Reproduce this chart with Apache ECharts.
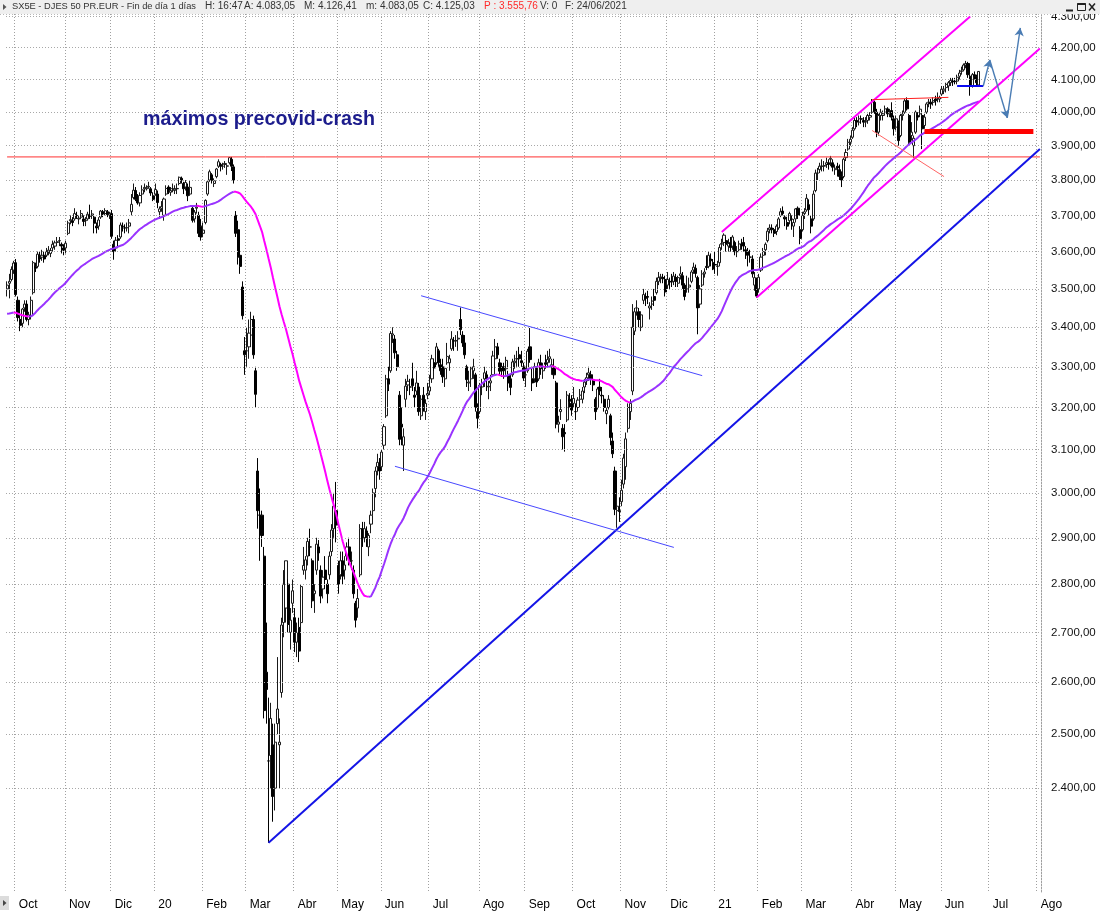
<!DOCTYPE html>
<html><head><meta charset="utf-8">
<script src="https://cdn.jsdelivr.net/npm/echarts@6/dist/echarts.min.js"></script>
<style>html,body{margin:0;padding:0;background:#fff}#c{width:1100px;height:911px}</style>
</head><body><div id="c"></div>
<script>
// ---------- calendar / ticks ----------
const firstDay = [2019, 8, 25];   // 25 Sep 2019 (UTC month index)
const lastDay = [2021, 7, 3];     // 3 Aug 2021 (axis extends into the future)
const holidays = ['2019-12-25','2019-12-26','2020-01-01','2020-04-10','2020-04-13','2020-05-01',
  '2020-12-25','2021-01-01','2021-04-02','2021-04-05'];
const monthAbbr = ['Ene','Feb','Mar','Abr','May','Jun','Jul','Ago','Sep','Oct','Nov','Dic'];
const yTickLevels = [2400,2500,2600,2700,2800,2900,3000,3100,3200,3300,3400,3500,3600,3700,3800,3900,4000,4100,4200,4300];

// ---------- closes before the visible range (for the 50-session average) ----------
const warmupCloses = [3480,3495,3500,3525,3530,3525,3545,3525,3470,3467,
  3455,3375,3280,3270,3282,3345,3310,3300,3333,3270,3280,3333,3374,3350,3380,3365,3334,3337,3354,3350,3395,3427,
  3431,3423,3470,3495,3495,3495,3494,3523,3540,3550,3537,3525,3531,3547,3571,3520,3525];

// ---------- daily bars [open, high, low, close] ----------
const sep2019 = [[3500,3520,3480,3510],[3515,3540,3475,3520],[3525,3560,3520,3552],[3550,3575,3540,3569]];
const oct2019 = [[3570,3580,3480,3485],[3470,3480,3415,3425],[3420,3440,3390,3405],[3410,3450,3400,3447],[3450,3470,3440,3460],
  [3460,3470,3415,3420],[3420,3440,3405,3432],[3430,3480,3420,3470],[3490,3575,3485,3570],[3560,3570,3545,3555],
  [3560,3600,3555,3593],[3590,3600,3570,3580],[3585,3605,3575,3590],[3590,3600,3570,3580],[3590,3610,3585,3600],
  [3600,3615,3590,3604],[3595,3610,3585,3603],[3610,3630,3600,3620],[3615,3630,3605,3624],[3625,3640,3615,3627],
  [3630,3640,3615,3630],[3620,3625,3595,3615],[3610,3620,3590,3604]];
const nov2019 = [[3610,3630,3595,3623],[3650,3685,3645,3679],[3685,3700,3675,3688],[3685,3695,3670,3680],[3690,3720,3685,3705],
  [3700,3710,3690,3699],[3690,3700,3675,3692],[3695,3715,3690,3705],[3690,3700,3670,3683],[3685,3695,3670,3686],
  [3690,3710,3685,3703],[3700,3730,3690,3697],[3700,3715,3690,3704],[3695,3700,3650,3678],[3670,3680,3650,3665],
  [3670,3695,3660,3687],[3695,3715,3690,3712],[3710,3715,3695,3704],[3705,3720,3700,3713],[3710,3715,3695,3702],
  [3700,3710,3690,3704]];
const dec2019 = [[3705,3715,3635,3642],[3620,3630,3578,3600],[3610,3640,3600,3631],[3635,3645,3615,3631],[3640,3680,3635,3673],
  [3670,3680,3655,3669],[3665,3675,3650,3665],[3665,3680,3655,3666],[3670,3690,3650,3679],[3710,3760,3700,3731],
  [3750,3790,3745,3771],[3770,3780,3740,3745],[3745,3760,3730,3735],[3735,3765,3725,3756],[3760,3785,3755,3772],
  [3775,3790,3765,3779],[3775,3785,3770,3778],[3780,3795,3775,3782],[3775,3780,3755,3763],[3755,3765,3740,3745]];
const jan2020 = [[3760,3790,3755,3773],[3760,3770,3720,3736],[3710,3725,3690,3718],[3720,3740,3710,3725],[3700,3750,3685,3746],
  [3760,3785,3755,3776],[3780,3785,3760,3766],[3765,3780,3755,3770],[3775,3790,3765,3776],[3770,3785,3760,3774],
  [3775,3790,3760,3776],[3790,3810,3785,3808],[3805,3810,3790,3800],[3790,3795,3760,3775],[3780,3800,3770,3793],
  [3780,3790,3740,3755],[3760,3800,3755,3779],[3720,3725,3680,3686],[3690,3715,3680,3709],[3720,3735,3705,3723],
  [3700,3710,3640,3650],[3670,3690,3630,3640]];
const feb2020 = [[3650,3680,3640,3659],[3680,3745,3675,3742],[3760,3800,3755,3795],[3800,3830,3795,3824],[3815,3820,3790,3799],
  [3790,3805,3780,3798],[3810,3835,3805,3832],[3840,3860,3835,3853],[3845,3850,3825,3840],[3840,3850,3830,3840],
  [3845,3855,3835,3848],[3840,3845,3815,3841],[3850,3867,3845,3865],[3860,3867,3826,3840],[3838,3845,3790,3800],
  [3700,3712,3640,3650],[3660,3685,3565,3585],[3590,3620,3540,3560],[3505,3520,3420,3430],[3340,3375,3280,3330]];
const mar2020 = [[3340,3400,3300,3340],[3350,3420,3320,3385],[3380,3440,3350,3420],[3420,3430,3320,3330],[3290,3300,3200,3232],
  [3050,3080,2920,2960],[2950,3010,2850,2950],[2950,2960,2880,2905],[2860,2880,2530,2545],[2620,2720,2520,2586],
  [2450,2570,2303,2450],[2460,2560,2400,2530],[2480,2520,2340,2385],[2400,2520,2360,2485],[2520,2650,2500,2548],
  [2480,2530,2400,2485],[2580,2730,2570,2715],[2720,2830,2690,2800],[2750,2850,2720,2850],[2800,2810,2700,2716],
  [2700,2750,2665,2725],[2760,2810,2740,2786]];
const apr2020 = [[2730,2750,2660,2680],[2680,2720,2650,2700],[2710,2730,2640,2662],[2720,2800,2700,2795],[2830,2880,2820,2840],
  [2830,2860,2810,2852],[2860,2900,2840,2892],[2880,2920,2860,2880],[2850,2855,2750,2765],[2780,2800,2740,2786],
  [2830,2900,2820,2886],[2880,2895,2850,2867],[2830,2840,2760,2775],[2790,2830,2770,2815],[2830,2860,2790,2810],
  [2800,2810,2760,2780],[2820,2870,2810,2860],[2870,2930,2860,2917],[2920,3000,2900,2970],[2960,3025,2890,2928]];
const may2020 = [[2840,2850,2780,2800],[2820,2870,2810,2850],[2850,2870,2800,2817],[2830,2860,2810,2841],[2860,2890,2850,2880],
  [2880,2900,2840,2848],[2850,2870,2830,2850],[2830,2840,2770,2780],[2760,2765,2710,2725],[2750,2790,2730,2770],
  [2820,2930,2815,2920],[2920,2935,2880,2898],[2900,2935,2890,2920],[2915,2925,2880,2900],[2880,2910,2860,2905],
  [2930,2960,2910,2950],[2960,3010,2950,3000],[3010,3060,2990,3050],[3060,3090,3040,3070],[3060,3080,3030,3050]];
const jun2020 = [[3060,3100,3050,3094],[3110,3160,3100,3154],[3180,3280,3175,3270],[3270,3300,3240,3257],[3290,3390,3285,3384],
  [3380,3400,3360,3383],[3370,3380,3320,3335],[3330,3340,3290,3300],[3230,3240,3110,3124],[3160,3200,3110,3153],
  [3110,3150,3050,3130],[3220,3270,3200,3252],[3255,3280,3240,3264],[3250,3270,3230,3250],[3270,3310,3240,3253],
  [3230,3250,3200,3225],[3240,3290,3230,3260],[3250,3260,3180,3190],[3180,3230,3170,3220],[3230,3250,3190,3206],
  [3190,3220,3170,3210],[3230,3260,3220,3234]];
const jul2020 = [[3240,3280,3230,3250],[3270,3330,3260,3320],[3310,3320,3290,3297],[3310,3360,3305,3350],[3340,3345,3300,3310],
  [3305,3320,3280,3290],[3300,3320,3260,3275],[3270,3300,3250,3296],[3310,3360,3305,3326],[3310,3330,3290,3320],
  [3345,3390,3340,3370],[3365,3375,3340,3365],[3365,3380,3350,3366],[3370,3390,3340,3372],[3420,3451,3380,3394],
  [3380,3390,3350,3360],[3360,3380,3320,3330],[3300,3305,3250,3268],[3260,3290,3240,3262],[3270,3300,3250,3295],
  [3290,3320,3270,3300],[3280,3285,3190,3200],[3190,3210,3150,3174]];
const aug2020 = [[3190,3260,3185,3254],[3250,3270,3230,3260],[3270,3300,3250,3285],[3280,3290,3240,3270],[3250,3265,3220,3252],
  [3260,3280,3240,3265],[3280,3340,3275,3327],[3320,3370,3310,3350],[3350,3360,3320,3330],[3310,3320,3280,3289],
  [3300,3310,3275,3290],[3300,3310,3270,3290],[3295,3325,3280,3316],[3280,3290,3240,3260],[3270,3280,3230,3249],
  [3280,3320,3275,3312],[3310,3330,3295,3314],[3320,3340,3300,3320],[3330,3350,3300,3320],[3315,3340,3300,3310],
  [3300,3310,3265,3272]];
const sep2020 = [[3280,3300,3250,3280],[3290,3345,3285,3339],[3350,3398,3310,3318],[3270,3300,3240,3260],[3270,3310,3260,3300],
  [3290,3300,3250,3262],[3270,3320,3265,3310],[3310,3330,3280,3295],[3290,3310,3270,3300],[3310,3330,3295,3306],
  [3310,3340,3300,3318],[3320,3345,3310,3325],[3300,3320,3280,3305],[3300,3320,3270,3280],[3260,3265,3150,3160],
  [3160,3180,3140,3165],[3190,3220,3170,3195],[3150,3160,3100,3130],[3140,3160,3095,3137],[3170,3240,3165,3230],
  [3220,3235,3200,3215],[3210,3230,3180,3194]];
const oct2020 = [[3210,3250,3200,3222],[3190,3210,3170,3190],[3200,3225,3190,3218],[3220,3245,3210,3230],[3220,3250,3210,3240],
  [3250,3270,3235,3262],[3265,3285,3255,3273],[3280,3300,3265,3285],[3280,3290,3255,3270],[3265,3280,3240,3255],
  [3220,3225,3170,3190],[3200,3250,3195,3245],[3250,3270,3230,3240],[3230,3250,3210,3228],[3220,3230,3190,3200],
  [3185,3200,3160,3193],[3200,3230,3195,3220],[3180,3185,3110,3128],[3120,3140,3080,3090],[3050,3060,2950,2963],
  [2960,3000,2922,2970],[2960,2990,2935,2958]];
const nov2020 = [[2980,3030,2970,3006],[3020,3090,3010,3080],[3060,3140,3030,3125],[3150,3210,3140,3200],[3190,3220,3170,3210],
  [3240,3460,3230,3400],[3390,3450,3380,3440],[3450,3470,3430,3450],[3440,3450,3400,3420],[3400,3440,3390,3432],
  [3470,3500,3460,3485],[3480,3490,3455,3475],[3480,3495,3460,3478],[3450,3465,3420,3455],[3460,3480,3445,3468],
  [3480,3500,3455,3470],[3490,3530,3485,3520],[3520,3545,3510,3530],[3530,3540,3515,3532],[3530,3540,3515,3527],
  [3525,3535,3480,3492]];
const dec2020 = [[3510,3545,3500,3525],[3520,3530,3500,3519],[3520,3540,3505,3518],[3520,3545,3510,3534],[3530,3540,3505,3520],
  [3515,3535,3505,3530],[3535,3560,3525,3540],[3535,3545,3500,3510],[3510,3515,3470,3480],[3500,3535,3490,3500],
  [3505,3530,3490,3510],[3520,3550,3515,3545],[3550,3570,3540,3558],[3555,3565,3530,3541],[3530,3535,3382,3450],
  [3460,3510,3450,3500],[3510,3550,3505,3540],[3540,3555,3530,3545],[3560,3590,3550,3557],[3560,3600,3555,3590],
  [3580,3595,3560,3575],[3570,3580,3550,3553]];
const jan2021 = [[3565,3600,3540,3564],[3560,3575,3535,3561],[3570,3620,3560,3611],[3620,3635,3605,3622],[3625,3650,3615,3645],
  [3630,3640,3600,3620],[3615,3635,3600,3622],[3625,3640,3600,3611],[3615,3645,3605,3640],[3625,3630,3590,3600],
  [3600,3615,3585,3600],[3605,3630,3600,3621],[3620,3635,3605,3620],[3625,3640,3600,3615],[3605,3615,3580,3602],
  [3600,3610,3560,3590],[3585,3605,3570,3585],[3580,3590,3530,3540],[3510,3545,3495,3530],[3525,3530,3477,3481]];
const feb2021 = [[3500,3540,3490,3531],[3550,3595,3545,3585],[3590,3610,3580,3600],[3605,3625,3590,3620],[3630,3665,3625,3656],
  [3660,3675,3650,3665],[3665,3675,3650,3660],[3660,3665,3640,3650],[3655,3675,3645,3670],[3665,3695,3660,3690],
  [3700,3720,3695,3710],[3712,3725,3700,3705],[3695,3700,3670,3690],[3680,3695,3660,3670],[3685,3710,3675,3705],
  [3690,3700,3660,3689],[3670,3690,3640,3680],[3690,3720,3680,3718],[3720,3725,3690,3700],[3660,3670,3620,3636]];
const mar2021 = [[3660,3710,3655,3700],[3705,3720,3690,3710],[3715,3760,3710,3748],[3730,3745,3700,3716],[3690,3700,3650,3670],
  [3690,3770,3685,3760],[3770,3830,3765,3820],[3820,3835,3800,3820],[3830,3850,3820,3840],[3840,3860,3825,3840],
  [3840,3855,3825,3842],[3845,3865,3835,3850],[3850,3860,3830,3845],[3860,3870,3840,3863],[3850,3860,3825,3837],
  [3830,3845,3815,3834],[3840,3850,3810,3835],[3830,3845,3800,3810],[3810,3825,3780,3800],[3810,3865,3805,3860],
  [3865,3890,3855,3880],[3890,3920,3885,3910],[3910,3930,3900,3919]];
const apr2021 = [[3925,3955,3920,3946],[3950,3985,3945,3975],[3975,3985,3955,3970],[3970,3990,3960,3980],[3980,3990,3965,3979],
  [3975,3985,3955,3970],[3970,3985,3955,3972],[3975,3995,3965,3990],[3985,4000,3975,3990],[4000,4040,3995,4032],
  [4030,4035,3995,4003],[4000,4010,3925,3940],[3940,3995,3930,3990],[3990,4010,3975,4000],[3990,4005,3975,3995],
  [4000,4020,3995,4010],[4010,4015,3985,3995],[3995,4010,3985,4000],[4005,4030,3975,3985],[3980,3990,3930,3950]];
const may2021 = [[3955,3990,3945,3980],[3970,3975,3900,3915],[3930,3995,3925,3990],[3990,4005,3975,3994],[4000,4040,3995,4034],
  [4035,4045,4005,4010],[3990,3995,3905,3910],[3930,3970,3915,3940],[3900,3930,3864,3922],[3940,4005,3935,4000],
  [3990,4000,3975,3985],[3995,4020,3985,4009],[3990,3995,3890,3950],[3960,3995,3950,3985],[4000,4030,3995,4025],
  [4030,4040,4015,4030],[4030,4040,4010,4025],[4030,4045,4020,4035],[4040,4050,4020,4035],[4040,4060,4030,4040],
  [4040,4050,4030,4045]];
const jun2021 = [[4055,4080,4050,4070],[4065,4080,4055,4070],[4075,4090,4060,4085],[4080,4095,4065,4090],[4090,4105,4080,4097],
  [4095,4105,4080,4093],[4095,4105,4085,4093],[4095,4115,4085,4107],[4110,4130,4100,4120],[4125,4140,4115,4127],
  [4130,4150,4125,4145],[4145,4158,4135,4150],[4150,4155,4105,4115],[4110,4115,4050,4083],[4080,4120,4075,4115],
  [4115,4125,4100,4110],[4110,4115,4080,4090],[4083.05,4126.41,4083.05,4125.03]];

// ---------- drawn annotations [date, price] ----------
const maxPrecovid = 3867;
const supportLine = [['2020-03-16', 2303], ['2021-08-03', 3890]];
const channelHigh = [['2020-06-25', 3482], ['2020-12-23', 3278]];
const channelLow = [['2020-06-09', 3061], ['2020-12-04', 2879]];
const trendHigh = [['2021-01-07', 3654], ['2021-06-18', 4300]];
const trendLow = [['2021-01-29', 3477], ['2021-08-03', 4197]];
const rangeTop = [['2021-04-16', 4038], ['2021-06-04', 4045]];
const rangeDiag = [['2021-04-16', 3945], ['2021-06-02', 3810]];
const supportThick = [['2021-05-20', 3944], ['2021-07-29', 3944]];
const recentLow = [['2021-06-10', 4080], ['2021-06-28', 4080]];
const forecastPath = [['2021-06-28', 4080], ['2021-07-01', 4161], ['2021-07-13', 3983], ['2021-07-21', 4263]];
const noteText = 'máximos precovid-crash';
const headerParts = [
  ['SX5E - DJES 50 PR.EUR - Fin de día 1 días', 12, '#333', 9.3],
  ['H: 16:47', 205, '#333', 10], ['A: 4.083,05', 244, '#333', 10], ['M: 4.126,41', 304, '#333', 10],
  ['m: 4.083,05', 366, '#333', 10], ['C: 4.125,03', 423, '#333', 10], ['P : 3.555,76', 484, '#ff2a2a', 10],
  ['V: 0', 540, '#333', 10], ['F: 24/06/2021', 565, '#333', 10]];

// ---------- build ----------
const monthBlocks = [['2019-09',sep2019],['2019-10',oct2019],['2019-11',nov2019],['2019-12',dec2019],
  ['2020-01',jan2020],['2020-02',feb2020],['2020-03',mar2020],['2020-04',apr2020],['2020-05',may2020],['2020-06',jun2020],
  ['2020-07',jul2020],['2020-08',aug2020],['2020-09',sep2020],['2020-10',oct2020],['2020-11',nov2020],['2020-12',dec2020],
  ['2021-01',jan2021],['2021-02',feb2021],['2021-03',mar2021],['2021-04',apr2021],['2021-05',may2021],['2021-06',jun2021]];

const categories = [];
for (let t = Date.UTC(...firstDay); t <= Date.UTC(...lastDay); t += 86400000) {
  const d = new Date(t), wd = d.getUTCDay(), s = d.toISOString().slice(0, 10);
  if (wd === 0 || wd === 6 || holidays.includes(s)) continue;
  categories.push(s);
}
const monthStart = new Set();
categories.forEach((c, i) => { if (i > 0 && c.slice(0, 7) !== categories[i - 1].slice(0, 7)) monthStart.add(i); });

const barAt = new Array(categories.length).fill(null);
monthBlocks.forEach(([key, arr]) => {
  const idx = [];
  categories.forEach((c, i) => { if (c.startsWith(key)) idx.push(i); });
  arr.forEach((b, k) => { if (k < idx.length) barAt[idx[k]] = b; });
});
let lastBar = 0; barAt.forEach((b, i) => { if (b) lastBar = i; });
const candleData = barAt.slice(0, lastBar + 1).map(b => b ? [b[0], b[3], b[2], b[1]] : '-');

// 50-session simple moving average of closes
const closesAll = warmupCloses.slice();
const ma = barAt.map(b => {
  if (!b) return null;
  closesAll.push(b[3]);
  const w = closesAll.slice(-50);
  return w.reduce((a, c) => a + c, 0) / w.length;
});
const maUpColor = '#9933ff', maDownColor = '#ff00ff';
const maSeries = [];
function pushRun(s, e, up) {
  maSeries.push({
    type: 'line', data: ma.map((v, i) => (i >= s && i <= e) ? v : null), showSymbol: false, symbol: 'none',
    silent: true, z: 4, connectNulls: false, lineStyle: { width: 2, color: up ? maUpColor : maDownColor }
  });
}
{
  let runStart = 0, runDir = null, last = 0;
  for (let i = 1; i < ma.length; i++) {
    if (ma[i] == null || ma[i - 1] == null) break;
    const dir = ma[i] >= ma[i - 1];
    if (runDir === null) { runDir = dir; runStart = i - 1; }
    else if (dir !== runDir) { pushRun(runStart, i - 1, runDir); runDir = dir; runStart = i - 1; }
    last = i;
  }
  pushRun(runStart, last, runDir);
}

const ci = d => categories.indexOf(d);
function seg(pair, style, arrow) {
  return [
    { coord: [ci(pair[0][0]), pair[0][1]], symbol: 'none', lineStyle: style },
    { coord: [ci(pair[1][0]), pair[1][1]], symbol: arrow ? 'arrow' : 'none', symbolSize: arrow ? [7, 8] : 0, lineStyle: style }
  ];
}
const fmtPrice = v => String(Math.round(v)).replace(/\B(?=(\d{3})+(?!\d))/g, '.') + ',00';
const FONT = '"Liberation Sans", Arial, sans-serif';

const markLineData = [
  seg(supportLine, { color: '#1414e6', width: 2, type: 'solid' }),
  seg(channelHigh, { color: '#4848ff', width: 1, type: 'solid' }),
  seg(channelLow, { color: '#4848ff', width: 1, type: 'solid' }),
  seg(trendHigh, { color: '#ff00ff', width: 2, type: 'solid' }),
  seg(trendLow, { color: '#ff00ff', width: 2, type: 'solid' }),
  seg(rangeTop, { color: '#ff2020', width: 1, type: 'solid' }),
  seg(rangeDiag, { color: '#ff6464', width: 1, type: 'solid' }),
  seg(supportThick, { color: '#ff0000', width: 5, type: 'solid' }),
  seg(recentLow, { color: '#0a0af0', width: 2, type: 'solid' })
];
for (let k = 0; k < forecastPath.length - 1; k++) {
  markLineData.push(seg([forecastPath[k], forecastPath[k + 1]], { color: '#4a7cb4', width: 1.4, type: 'solid' }, true));
}

const chart = echarts.init(document.getElementById('c'), null, { renderer: 'canvas' });
chart.setOption({
  animation: false,
  backgroundColor: '#ffffff',
  grid: { left: 6, top: 14, width: 1035, height: 879, containLabel: false },
  xAxis: {
    type: 'category', data: categories, boundaryGap: true,
    axisLine: { show: false }, axisTick: { show: false },
    axisLabel: {
      interval: (i) => monthStart.has(i), align: 'left', padding: [0, 0, 0, 3], margin: 7,
      color: '#000', fontSize: 12, fontFamily: FONT,
      formatter: (v) => { const m = +v.slice(5, 7); return m === 1 ? v.slice(2, 4) : monthAbbr[m - 1]; }
    },
    splitLine: { show: true, interval: (i) => monthStart.has(i), lineStyle: { color: '#a0a0a0', width: 1, type: [1, 2] } }
  },
  yAxis: {
    type: 'log', logBase: 10, min: 2219, max: 4308, position: 'right',
    axisLine: { show: true, lineStyle: { color: '#a0a0a0', type: [1, 2] } },
    axisTick: { show: false }, axisLabel: { show: false }, splitLine: { show: false }
  },
  series: [
    {
      type: 'line', data: categories.map(() => null), silent: true, z: 1, showSymbol: false,
      markLine: {
        silent: true, symbol: ['none', 'none'], animation: false,
        lineStyle: { color: '#a8a8a8', width: 1, type: [1, 2] },
        label: { show: true, position: 'end', formatter: '{b}', color: '#111', fontSize: 11.5, fontFamily: FONT, distance: 10 },
        data: yTickLevels.map(v => ({ yAxis: v, name: fmtPrice(v) }))
      }
    },
    {
      type: 'line', data: categories.map((c, i) => (i === 0 || i === categories.length - 1) ? maxPrecovid : null),
      connectNulls: true, showSymbol: false, symbol: 'none', silent: true, z: 3,
      color: '#ff3030', lineStyle: { color: '#ff3030', width: 1 }
    },
    {
      type: 'candlestick', data: candleData, barWidth: 2.6, silent: true, z: 2,
      itemStyle: { color: '#ffffff', color0: '#000000', borderColor: '#1a1a1a', borderColor0: '#000000', borderWidth: 1 }
    },
    ...maSeries,
    {
      type: 'line', data: categories.map(() => null), silent: true, z: 6, showSymbol: false,
      markLine: { silent: true, symbol: ['none', 'none'], animation: false, label: { show: false }, data: markLineData }
    }
  ],
  graphic: [
    { type: 'text', left: 143, top: 110, z: 50, style: { text: noteText, fill: '#1c1c8c', font: 'bold 19.7px ' + FONT } },
    { type: 'rect', shape: { x: 0, y: 0, width: 1100, height: 14 }, style: { fill: '#efefef' }, z: 100 },
    { type: 'line', shape: { x1: 0, y1: 14.5, x2: 1100, y2: 14.5 }, style: { stroke: '#b8b8b8', lineDash: [1, 2], lineWidth: 1 }, z: 100 },
    { type: 'polygon', shape: { points: [[3, 4], [6.5, 7], [3, 10]] }, style: { fill: '#555' }, z: 101 },
    ...headerParts.map(p => ({ type: 'text', left: p[1], top: 1.5, z: 101, style: { text: p[0], fill: p[2], font: p[3] + 'px ' + FONT } })),
    { type: 'line', shape: { x1: 1066, y1: 10.5, x2: 1073, y2: 10.5 }, style: { stroke: '#222', lineWidth: 2 }, z: 101 },
    { type: 'rect', shape: { x: 1077.5, y: 3.5, width: 8, height: 7 }, style: { fill: 'none', stroke: '#222', lineWidth: 1 }, z: 101 },
    { type: 'line', shape: { x1: 1077.5, y1: 4, x2: 1085.5, y2: 4 }, style: { stroke: '#222', lineWidth: 2 }, z: 101 },
    { type: 'line', shape: { x1: 1089, y1: 3.5, x2: 1095, y2: 10.5 }, style: { stroke: '#222', lineWidth: 1.5 }, z: 101 },
    { type: 'line', shape: { x1: 1095, y1: 3.5, x2: 1089, y2: 10.5 }, style: { stroke: '#222', lineWidth: 1.5 }, z: 101 },
    { type: 'rect', shape: { x: 0, y: 896, width: 9, height: 14 }, style: { fill: '#dcdcdc' }, z: 101 },
    { type: 'polygon', shape: { points: [[3, 900], [6.5, 903], [3, 906]] }, style: { fill: '#444' }, z: 102 }
  ]
});
</script></body></html>
